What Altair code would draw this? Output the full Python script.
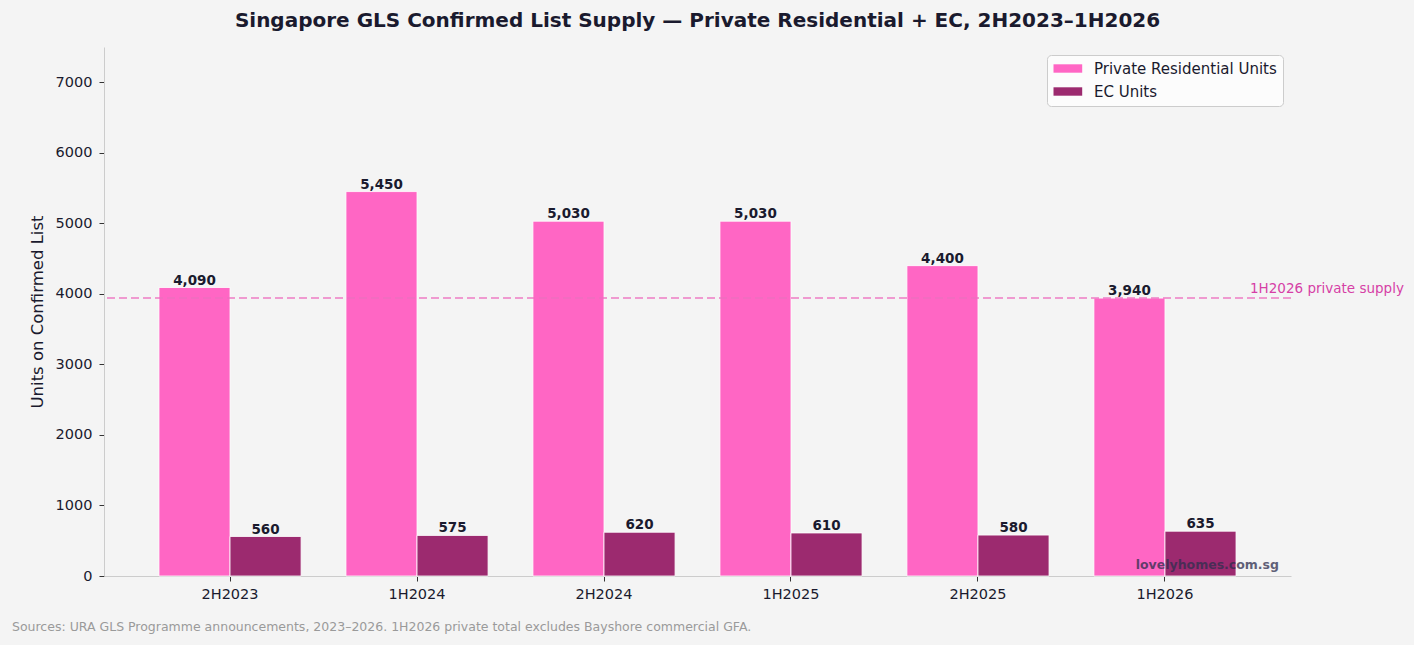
import altair as alt
import pandas as pd

# GLS Confirmed List supply by half-year
periods = ["2H2023", "1H2024", "2H2024", "1H2025", "2H2025", "1H2026"]
private_units = [4090, 5450, 5030, 5030, 4400, 3940]
ec_units = [560, 575, 620, 610, 580, 635]

series_names = ["Private Residential Units", "EC Units"]
series_colors = ["#ff66c4", "#9c2a6f"]

FONT = "DejaVu Sans"
INK = "#1a1a2e"

rows = []
for p, pv, ev in zip(periods, private_units, ec_units):
    rows.append({"period": p, "series": series_names[0], "units": pv})
    rows.append({"period": p, "series": series_names[1], "units": ev})
df = pd.DataFrame(rows)

W, H = 1187, 529

x_enc = alt.X(
    "period:N",
    sort=periods,
    title=None,
    scale=alt.Scale(paddingInner=0.24, paddingOuter=0.294),
    axis=alt.Axis(
        labelAngle=0,
        labelFont=FONT,
        labelFontSize=14.5,
        labelColor=INK,
        labelPadding=6,
        tickColor="#333333",
        tickSize=5,
        domainColor="#cccccc",
        grid=False,
    ),
)
xoff_enc = alt.XOffset(
    "series:N",
    sort=series_names,
    scale=alt.Scale(paddingInner=0, paddingOuter=0),
)
y_enc = alt.Y(
    "units:Q",
    title="Units on Confirmed List",
    scale=alt.Scale(domain=[0, 7500], nice=False),
    axis=alt.Axis(
        values=[0, 1000, 2000, 3000, 4000, 5000, 6000, 7000],
        format="d",
        labelFont=FONT,
        labelFontSize=14.5,
        labelColor=INK,
        labelPadding=7,
        tickColor="#333333",
        tickSize=5,
        domainColor="#cccccc",
        grid=False,
        titleFont=FONT,
        titleFontSize=16.5,
        titleFontWeight="normal",
        titleColor=INK,
        titlePadding=10,
    ),
)

# Wide, short legend swatches: the path spans past the unit box so rows stay compact
legend = alt.Legend(
    title=None,
    orient="top-right",
    offset=8,
    padding=6,
    rowPadding=7,
    fillColor="#fcfcfc",
    strokeColor="#cccccc",
    cornerRadius=4,
    labelFont=FONT,
    labelFontSize=15,
    labelColor=INK,
    labelLimit=400,
    labelOffset=26,
    symbolType="M-1,-0.6H3.1V0.6H-1Z",
    symbolSize=196,
    symbolStrokeWidth=0,
)

bars = alt.Chart(df).mark_bar(stroke="white", strokeWidth=0.8).encode(
    x=x_enc,
    xOffset=xoff_enc,
    y=y_enc,
    color=alt.Color(
        "series:N",
        sort=series_names,
        scale=alt.Scale(domain=series_names, range=series_colors),
        legend=legend,
    ),
)

labels = alt.Chart(df).mark_text(
    font=FONT, fontSize=13.5, fontWeight="bold", color=INK,
    baseline="alphabetic", dy=-3,
).encode(
    x=alt.X("period:N", sort=periods),
    xOffset=alt.XOffset("series:N", sort=series_names),
    y="units:Q",
    text=alt.Text("units:Q", format=","),
)

# Reference line at the latest private supply
latest_private = private_units[-1]
ref_line = alt.Chart().mark_rule(
    color="#ec6fbf", strokeDash=[8, 4], strokeWidth=1.5, opacity=0.9
).encode(y=alt.datum(latest_private))

ref_text = alt.Chart().mark_text(
    text="1H2026 private supply", font=FONT, fontSize=13.5, color="#d63fa6",
    align="left", baseline="alphabetic", dy=-5,
).encode(x=alt.value(1146), y=alt.datum(latest_private))

watermark = alt.Chart().mark_text(
    text="lovelyhomes.com.sg", font=FONT, fontSize=12.5, fontWeight="bold",
    color="#2e2e4e", opacity=0.75, align="right", baseline="alphabetic",
).encode(x=alt.value(1175), y=alt.value(522))

footer = alt.Chart().mark_text(
    text="Sources: URA GLS Programme announcements, 2023\u20132026. 1H2026 private total excludes Bayshore commercial GFA.",
    font=FONT, fontSize=12.5, color="#9a9a9a", align="left", baseline="alphabetic",
).encode(x=alt.value(-92), y=alt.value(584))

chart = alt.layer(bars, labels, ref_line, ref_text, watermark, footer).properties(
    width=W,
    height=H,
    background="#f4f4f4",
    padding={"left": 104, "top": 47, "right": 123, "bottom": 69},
    autosize=alt.AutoSizeParams(type="none"),
    title=alt.TitleParams(
        text="Singapore GLS Confirmed List Supply \u2014 Private Residential + EC, 2H2023\u20131H2026",
        font=FONT,
        fontSize=20,
        fontWeight="bold",
        color=INK,
        anchor="middle",
        frame="group",
        baseline="alphabetic",
        offset=0.5,
    ),
).configure_view(stroke=None)

chart.save("out.html", embed_options={"renderer": "svg", "actions": False})
